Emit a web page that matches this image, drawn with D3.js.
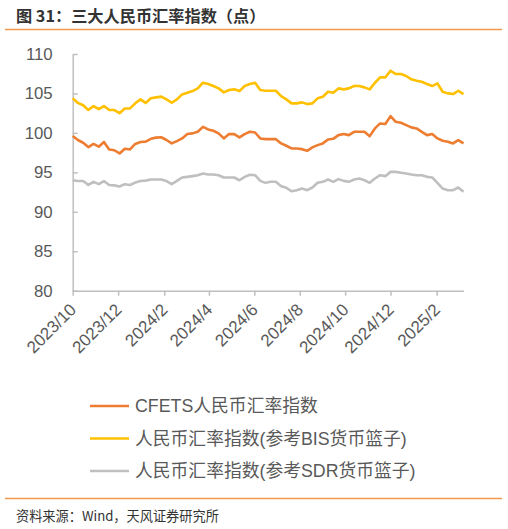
<!DOCTYPE html>
<html>
<head>
<meta charset="utf-8">
<script src="https://cdn.jsdelivr.net/npm/d3@7"></script>
<style>
  html, body { margin: 0; padding: 0; background: #fff; }
  svg text { font-family: "Liberation Sans", Arial, "Noto Sans CJK SC", sans-serif; }
</style>
</head>
<body>
<div id="chart"></div>
<script>
// weekly observations, first week 2023/10
const startDate = new Date(2023, 9, 1);
const tickLabels = ["2023/10", "2023/12", "2024/2", "2024/4", "2024/6", "2024/8", "2024/10", "2024/12", "2025/2"];
const yTicks = [80, 85, 90, 95, 100, 105, 110];

const seriesNames = [
  "CFETS人民币汇率指数",
  "人民币汇率指数(参考BIS货币篮子)",
  "人民币汇率指数(参考SDR货币篮子)",
];
const seriesColors = ["#ED7D31", "#FFC000", "#BFBFBF"];

const cfets = [
  99.6, 99.1, 98.75, 98.2, 98.6, 98.25, 98.85, 97.9, 97.8, 97.4,
  98.0, 97.9, 98.6, 98.85, 98.9, 99.25, 99.4, 99.45, 99.1, 98.67,
  98.96, 99.3, 99.85, 99.94, 100.14, 100.77, 100.44, 100.27, 99.94, 99.3,
  99.85, 99.85, 99.43, 99.85, 100.14, 100.05, 99.3, 99.21, 99.21, 99.21,
  98.67, 98.37, 98.03, 98.03, 97.94, 97.73, 98.16, 98.45, 98.67, 99.17,
  99.25, 99.72, 99.85, 99.72, 100.14, 100.14, 100.14, 99.59, 100.57, 101.2,
  101.12, 102.13, 101.41, 101.28, 100.99, 100.7, 100.57, 100.14, 99.72, 99.85,
  99.3, 99.0, 98.87, 98.67, 99.09, 98.67,
];
const bis = [
  104.4, 103.8, 103.5, 102.9, 103.4, 103.0, 103.4, 102.9, 102.9, 102.5,
  103.1, 103.1, 103.75, 104.25, 103.8, 104.4, 104.5, 104.6, 104.25, 103.82,
  104.25, 104.88, 105.09, 105.3, 105.64, 106.36, 106.19, 105.94, 105.64, 105.14,
  105.43, 105.52, 105.3, 105.94, 106.19, 106.36, 105.43, 105.34, 105.34, 105.34,
  104.67, 104.25, 103.74, 103.74, 103.87, 103.65, 103.74, 104.38, 104.59, 105.22,
  105.09, 105.64, 105.52, 105.64, 105.94, 105.94, 105.77, 105.52, 106.36, 107.04,
  107.04, 107.88, 107.46, 107.46, 107.21, 106.79, 106.62, 106.49, 106.19, 105.94,
  106.28, 105.22, 105.01, 104.92, 105.34, 104.92,
];
const sdr = [
  94.0, 93.9, 93.9, 93.4, 93.8, 93.5, 93.9, 93.4, 93.35, 93.2,
  93.5, 93.4, 93.7, 93.9, 93.95, 94.1, 94.1, 94.1, 93.9, 93.5,
  93.92, 94.35, 94.43, 94.52, 94.64, 94.86, 94.73, 94.73, 94.64, 94.35,
  94.35, 94.35, 94.0, 94.43, 94.69, 94.64, 93.92, 93.67, 93.8, 93.8,
  93.25, 93.04, 92.6, 92.74, 92.95, 92.74, 93.08, 93.67, 93.8, 94.09,
  93.8, 94.14, 93.92, 93.8, 94.09, 94.22, 94.0, 93.67, 94.22, 94.64,
  94.52, 95.06, 95.06, 94.94, 94.86, 94.73, 94.64, 94.64, 94.43, 94.35,
  93.67, 92.95, 92.74, 92.74, 93.08, 92.53,
];

const width = 508, height = 529;
const dates = cfets.map((_, i) => d3.timeDay.offset(startDate, 7 * i));
const tickDates = tickLabels.map((_, i) => d3.timeMonth.offset(startDate, 2 * i));

const svg = d3.select("#chart")
  .append("svg")
  .attr("width", width)
  .attr("height", height);

// Title and rules
svg.append("text")
  .attr("x", 16)
  .attr("y", 22)
  .attr("font-size", 16.2)
  .attr("font-weight", "bold")
  .attr("fill", "#333")
  .style("font-family", "'Noto Sans CJK SC', sans-serif")
  .text("图 31：三大人民币汇率指数（点）");

svg.append("line")
  .attr("x1", 5).attr("x2", 502)
  .attr("y1", 29.5).attr("y2", 29.5)
  .attr("stroke", "#F4974A").attr("stroke-width", 1.5);

svg.append("line")
  .attr("x1", 5).attr("x2", 502)
  .attr("y1", 498.5).attr("y2", 498.5)
  .attr("stroke", "#F4974A").attr("stroke-width", 1.5);

svg.append("text")
  .attr("x", 16)
  .attr("y", 521)
  .attr("font-size", 13.2)
  .attr("fill", "#333")
  .style("font-family", "'Noto Sans CJK SC', sans-serif")
  .text("资料来源：Wind，天风证券研究所");

// Scales
const x = d3.scaleTime()
  .domain([dates[0], dates[dates.length - 1]])
  .range([72.7, 463.5]);

const y = d3.scaleLinear()
  .domain([80, 110])
  .range([290.7, 54]);

// Axes
const yAxis = svg.append("g")
  .attr("transform", "translate(72.7,0)")
  .call(d3.axisLeft(y).tickValues(yTicks).tickSizeInner(-5).tickSizeOuter(0).tickPadding(20));

const xAxis = svg.append("g")
  .attr("transform", "translate(0,290.7)")
  .call(d3.axisBottom(x).tickValues(tickDates).tickSizeInner(5).tickSizeOuter(0)
    .tickFormat((d, i) => tickLabels[i]));

[yAxis, xAxis].forEach((g) => {
  g.select(".domain").attr("stroke", "#BFBFBF").attr("stroke-width", 1.5);
  g.selectAll(".tick line").attr("stroke", "#BFBFBF").attr("stroke-width", 1.5);
  g.selectAll(".tick text").attr("fill", "#595959");
});

yAxis.selectAll(".tick text").attr("font-size", 16.8);

// labels slanted at 45deg, end of text just under the tick
xAxis.selectAll(".tick text")
  .attr("font-size", 17)
  .attr("text-anchor", "end")
  .attr("x", 0)
  .attr("y", 0)
  .attr("dy", 0)
  .attr("transform", "translate(4,20) rotate(-45)");

// Lines
const line = d3.line()
  .x((d, i) => x(dates[i]))
  .y((d) => y(d));

const series = [cfets, bis, sdr];

svg.append("g")
  .selectAll("path")
  .data(series)
  .join("path")
  .attr("d", line)
  .attr("fill", "none")
  .attr("stroke", (d, i) => seriesColors[i])
  .attr("stroke-width", 2.6)
  .attr("stroke-linejoin", "round");

// Legend
const legend = svg.append("g")
  .selectAll("g")
  .data(seriesNames)
  .join("g")
  .attr("transform", (d, i) => `translate(90, ${406 + i * 32.5})`);

legend.append("line")
  .attr("x1", 0).attr("x2", 39)
  .attr("stroke", (d, i) => seriesColors[i])
  .attr("stroke-width", 2.6);

legend.append("text")
  .attr("x", 45)
  .attr("dy", "0.35em")
  .attr("font-size", 17.8)
  .attr("fill", "#595959")
  .text((d) => d);
</script>
</body>
</html>
